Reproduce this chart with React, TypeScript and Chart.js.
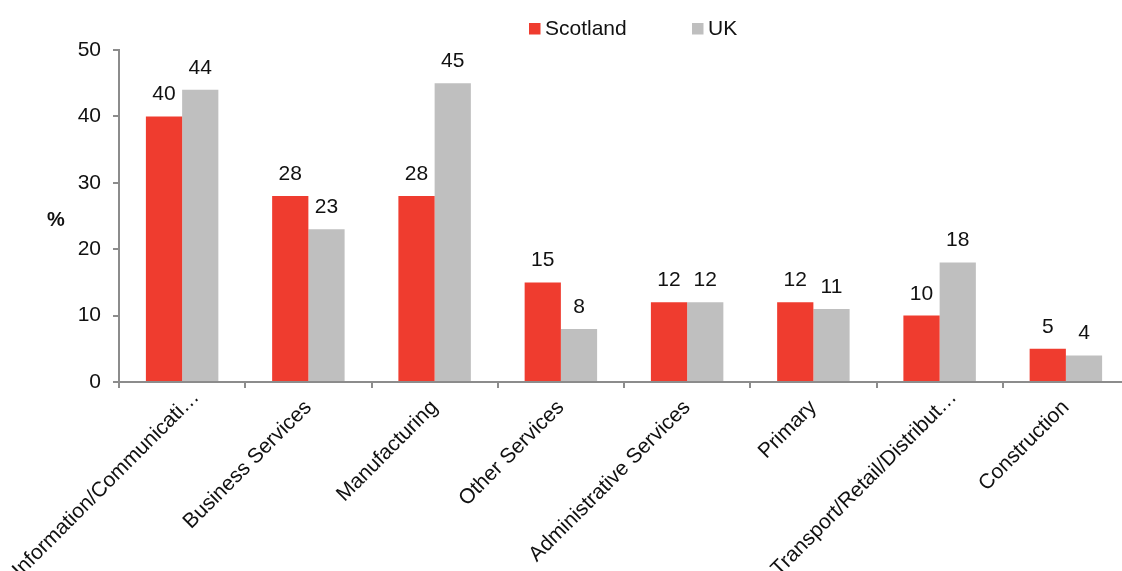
import React, { useEffect, useRef } from "react";
import { Chart, registerables } from "chart.js";

Chart.register(...registerables);

const categories = [
  "Information/Communicati\u2026",
  "Business Services",
  "Manufacturing",
  "Other Services",
  "Administrative Services",
  "Primary",
  "Transport/Retail/Distribut\u2026",
  "Construction",
];
const scotlandValues = [40, 28, 28, 15, 12, 12, 10, 5];
const ukValues = [44, 23, 45, 8, 12, 11, 18, 4];
const yTickValues = [0, 10, 20, 30, 40, 50];
const seriesNames = ["Scotland", "UK"];
const yAxisTitle = "%";

const FONT = "'Liberation Sans', Arial, Helvetica, sans-serif";
const RED = "#EF3C2F";
const GRAY = "#BFBFBF";
const AXIS = "#8C8C8C";
const TEXT = "#111111";

export default function App() {
  const ref = useRef<HTMLCanvasElement | null>(null);

  useEffect(() => {
    const canvas = ref.current;
    if (!canvas) return;

    const valueLabels = {
      id: "valueLabels",
      afterDatasetsDraw(chart: any) {
        const ctx = chart.ctx;
        ctx.save();
        ctx.font = `21px ${FONT}`;
        ctx.fillStyle = TEXT;
        ctx.textAlign = "center";
        ctx.textBaseline = "alphabetic";
        chart.data.datasets.forEach((ds: any, i: number) => {
          const meta = chart.getDatasetMeta(i);
          meta.data.forEach((bar: any, j: number) => {
            ctx.fillText(String(ds.data[j]), bar.x, bar.y - 16);
          });
        });
        ctx.restore();
      },
    };

    const categoryLabels = {
      id: "categoryLabels",
      afterDraw(chart: any) {
        const ctx = chart.ctx;
        const xs = chart.scales.x;
        ctx.save();
        ctx.font = `21px ${FONT}`;
        ctx.fillStyle = TEXT;
        ctx.textAlign = "right";
        ctx.textBaseline = "middle";
        const labels = chart.data.labels as string[];
        labels.forEach((lab, i) => {
          const cx = xs.getPixelForTick(i);
          const truncated = lab.endsWith("\u2026");
          const ax = cx - 9 + (truncated ? 14 : 0);
          const ay = xs.top + 13.2 + (truncated ? -10 : 0);
          ctx.save();
          ctx.translate(ax, ay);
          ctx.rotate(-Math.PI / 4);
          ctx.fillText(lab, 0, 12.6);
          ctx.restore();
        });
        ctx.restore();
      },
    };

    const customLegend = {
      id: "customLegend",
      afterDraw(chart: any) {
        const ctx = chart.ctx;
        ctx.save();
        ctx.font = `21px ${FONT}`;
        ctx.textBaseline = "middle";
        ctx.textAlign = "left";
        const items = [
          { x: 529, color: RED, textX: 545 },
          { x: 692, color: GRAY, textX: 708 },
        ];
        items.forEach((it, i) => {
          ctx.fillStyle = it.color;
          ctx.fillRect(it.x, 23, 11.5, 11.5);
          ctx.fillStyle = TEXT;
          ctx.fillText(seriesNames[i], it.textX, 29.5);
        });
        ctx.restore();
      },
    };

    const yTitle = {
      id: "yTitle",
      afterDraw(chart: any) {
        const ctx = chart.ctx;
        ctx.save();
        ctx.font = `bold 20px ${FONT}`;
        ctx.fillStyle = TEXT;
        ctx.textAlign = "center";
        ctx.textBaseline = "middle";
        ctx.fillText(yAxisTitle, 56, 220);
        ctx.restore();
      },
    };

    const chart = new Chart(canvas, {
      type: "bar",
      data: {
        labels: categories,
        datasets: [
          {
            label: seriesNames[0],
            data: scotlandValues,
            backgroundColor: RED,
            borderWidth: 0,
            categoryPercentage: 0.574,
            barPercentage: 1,
          },
          {
            label: seriesNames[1],
            data: ukValues,
            backgroundColor: GRAY,
            borderWidth: 0,
            categoryPercentage: 0.574,
            barPercentage: 1,
          },
        ],
      },
      options: {
        responsive: false,
        animation: false,
        devicePixelRatio: 1,
        layout: { padding: { top: 50, left: 0, right: 0, bottom: 0 } },
        plugins: {
          legend: { display: false },
          tooltip: { enabled: false },
          title: { display: false },
        },
        scales: {
          x: {
            offset: true,
            grid: {
              display: true,
              offset: true,
              drawOnChartArea: false,
              drawTicks: true,
              tickLength: 6,
              color: AXIS,
              lineWidth: 2,
            },
            border: { display: true, color: AXIS, width: 2 },
            ticks: {
              display: false,
              autoSkip: false,
            },
            afterFit(scale: any) {
              scale.height = 189;
              scale.paddingLeft = 0;
              scale.paddingRight = 0;
            },
          },
          y: {
            min: 0,
            max: 50,
            afterBuildTicks(scale: any) {
              scale.ticks = yTickValues.map((v) => ({ value: v }));
            },
            grid: {
              display: true,
              drawOnChartArea: false,
              drawTicks: true,
              tickLength: 6,
              color: AXIS,
              lineWidth: 2,
            },
            border: { display: true, color: AXIS, width: 2 },
            ticks: {
              padding: 12,
              color: TEXT,
              font: { family: FONT, size: 21 },
            },
            afterFit(scale: any) {
              scale.width = 119;
              scale.paddingTop = 0;
              scale.paddingBottom = 0;
            },
          },
        },
      },
      plugins: [valueLabels, categoryLabels, customLegend, yTitle],
    });

    return () => chart.destroy();
  }, []);

  return (
    <div
      style={{
        position: "fixed",
        left: 0,
        top: 0,
        width: 1122,
        height: 571,
        overflow: "hidden",
        background: "#ffffff",
      }}
    >
      <canvas ref={ref} width={1129} height={571} style={{ display: "block" }} />
    </div>
  );
}
